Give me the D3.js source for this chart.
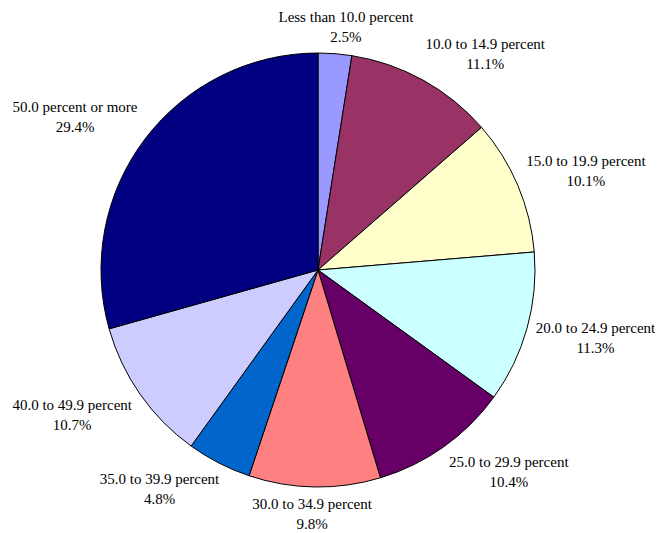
<!DOCTYPE html>
<html>
<head>
<meta charset="utf-8">
<script src="https://cdn.jsdelivr.net/npm/d3@7"></script>
<style>
  html, body { margin: 0; padding: 0; background: #fff; }
  svg { display: block; }
  text { font-family: "Liberation Serif", "Times New Roman", serif; font-size: 15px; fill: #000; }
</style>
</head>
<body>
<svg id="chart" width="662" height="533"></svg>
<script>
const categories = [
  "Less than 10.0 percent",
  "10.0 to 14.9 percent",
  "15.0 to 19.9 percent",
  "20.0 to 24.9 percent",
  "25.0 to 29.9 percent",
  "30.0 to 34.9 percent",
  "35.0 to 39.9 percent",
  "40.0 to 49.9 percent",
  "50.0 percent or more"
];
const values = [2.5, 11.1, 10.1, 11.3, 10.4, 9.8, 4.8, 10.7, 29.4];
const valueLabels = ["2.5%", "11.1%", "10.1%", "11.3%", "10.4%", "9.8%", "4.8%", "10.7%", "29.4%"];
const colors = ["#9999FF", "#993366", "#FFFFCC", "#CCFFFF", "#660066", "#FF8080", "#0066CC", "#CCCCFF", "#000080"];

const cx = 318, cy = 270, R = 217;
const svg = d3.select("#chart");
const g = svg.append("g").attr("transform", `translate(${cx},${cy})`);

const pie = d3.pie().sort(null).value(d => d)(values);
const arc = d3.arc().innerRadius(0).outerRadius(R);

g.selectAll("path.slice")
  .data(pie)
  .join("path")
  .attr("class", "slice")
  .attr("d", arc)
  .attr("fill", (d, i) => colors[i])
  .attr("stroke", "#000")
  .attr("stroke-width", 1);

const gap = 9;
const lineH = 20;
const fx = v => Math.max(-1, Math.min(1, 2 * v));
const fy = v => Math.max(-1, Math.min(1, 1.5 * v));
pie.forEach((d, i) => {
  const a = (d.startAngle + d.endAngle) / 2;
  const s = Math.sin(a), c = -Math.cos(a);
  const ax = (R + gap) * s, ay = (R + gap) * c;
  const t = g.append("text").attr("text-anchor", "middle");
  t.append("tspan").attr("x", 0).attr("y", 0).text(categories[i]);
  t.append("tspan").attr("x", 0).attr("y", lineH).text(valueLabels[i]);
  const bb = t.node().getBBox();
  const w = bb.width, h = bb.height;
  const bxc = ax + fx(s) * w / 2;
  const byc = ay + fy(c) * h / 2;
  const ox = bb.x + w / 2, oy = bb.y + h / 2;
  t.attr("transform", `translate(${bxc - ox},${byc - oy})`);
});
</script>
</body>
</html>
